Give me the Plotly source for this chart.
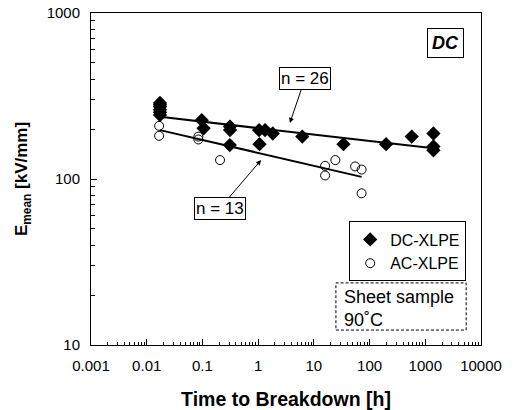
import plotly.graph_objects as go

# DC-XLPE data (time [h], Emean [kV/mm])
dc_time = [0.0173, 0.0173, 0.0173, 0.0173, 0.0173, 0.0173, 0.097, 0.105, 0.313, 0.313, 0.31,
           1.04, 1.06, 1.33, 1.83, 6.2, 34, 198, 571, 1400, 1400, 1400]
dc_E = [287, 280, 272, 261, 252, 243, 226, 202, 207, 197, 160,
        197, 162, 197, 188, 180, 162, 162, 180, 188, 157, 149]

# AC-XLPE data
ac_time = [0.0167, 0.0167, 0.0845, 0.0845, 0.207, 15.9, 15.9, 24.3, 55, 72, 72]
ac_E = [209, 182, 180, 173, 130, 120, 105, 130, 119, 114, 82]

# Fitted lines (end points)
dc_fit_t = [0.0173, 1400]
dc_fit_E = [237, 153]
ac_fit_t = [0.0173, 72]
ac_fit_E = [197, 103]

x_tickvals = [0.001, 0.01, 0.1, 1, 10, 100, 1000, 10000]
x_ticktext = ["0.001", "0.01", "0.1", "1", "10", "100", "1000", "10000"]
y_tickvals = [10, 100, 1000]
y_ticktext = ["10", "100", "1000"]
x_minor = [m * 10.0 ** e for e in range(-3, 4) for m in range(2, 10)]
y_minor = [m * 10.0 ** e for e in range(1, 3) for m in range(2, 10)]

FONT = "Liberation Sans, Arial, sans-serif"

fig = go.Figure()
fig.add_trace(go.Scatter(x=dc_fit_t, y=dc_fit_E, mode="lines",
                         line=dict(color="black", width=2), showlegend=False, hoverinfo="skip"))
fig.add_trace(go.Scatter(x=ac_fit_t, y=ac_fit_E, mode="lines",
                         line=dict(color="black", width=2), showlegend=False, hoverinfo="skip"))
fig.add_trace(go.Scatter(x=dc_time, y=dc_E, mode="markers", name="DC-XLPE",
                         marker=dict(symbol="diamond", size=11, color="black",
                                     line=dict(color="black", width=0))))
fig.add_trace(go.Scatter(x=ac_time, y=ac_E, mode="markers", name="AC-XLPE",
                         marker=dict(symbol="circle-open", size=9, color="black",
                                     line=dict(color="black", width=1))))

axis_common = dict(showline=True, linecolor="black", linewidth=1, mirror=True,
                   showgrid=False, zeroline=False, ticks="inside", ticklen=6,
                   tickcolor="black", tickfont=dict(family=FONT, size=15, color="black"),
                   automargin=False)

fig.update_xaxes(type="log", range=[-3, 4], tickvals=x_tickvals, ticktext=x_ticktext,
                 minor=dict(tickmode="array", tickvals=x_minor, ticks="inside", ticklen=3,
                            tickcolor="black", showgrid=False),
                 title=dict(text="<b>Time to Breakdown [h]</b>", standoff=22,
                            font=dict(family=FONT, size=19.5, color="black")),
                 ticklabelstandoff=7, **axis_common)
fig.update_yaxes(type="log", range=[1, 3], tickvals=y_tickvals, ticktext=y_ticktext,
                 minor=dict(tickmode="array", tickvals=y_minor, ticks="inside", ticklen=4,
                            tickcolor="black", showgrid=False),
                 title=dict(text="<b>E<sub>mean</sub> [kV/mm]</b>", standoff=14,
                            font=dict(family=FONT, size=17, color="black")),
                 ticklabelstandoff=7, **axis_common)

annotations = [
    dict(text="n = 26", x=0.510, y=0.669, xref="paper", yref="paper", ax=15, ay=-44,
         showarrow=True, arrowhead=2, arrowsize=1, arrowwidth=1, arrowcolor="black",
         bordercolor="black", borderwidth=1, borderpad=1, bgcolor="white",
         font=dict(family=FONT, size=17, color="black")),
    dict(text="n = 13", x=0.436, y=0.557, xref="paper", yref="paper", ax=-41, ay=48,
         showarrow=True, arrowhead=2, arrowsize=1, arrowwidth=1, arrowcolor="black",
         bordercolor="black", borderwidth=1, borderpad=1, bgcolor="white",
         font=dict(family=FONT, size=17, color="black")),
    dict(text="DC", x=0.909, y=0.91, xref="paper", yref="paper",
         xanchor="center", yanchor="middle",
         showarrow=False, bordercolor="black", borderwidth=1, borderpad=4, bgcolor="white",
         font=dict(family=FONT, size=18, color="black", weight="bold", style="italic")),
    dict(text="Sheet sample<br>90˚C", x=0.643, y=0.11, xref="paper", yref="paper",
         xanchor="left", yanchor="middle", align="left", showarrow=False,
         font=dict(family=FONT, size=18, color="black")),
]

fig.add_shape(type="rect", xref="paper", yref="paper", x0=0.628, x1=0.962, y0=0.045, y1=0.187,
              line=dict(color="black", width=1, dash="3px,2px"))

fig.update_layout(
    width=517, height=410,
    margin=dict(l=91, r=36, t=13, b=65, autoexpand=False),
    paper_bgcolor="white", plot_bgcolor="white",
    annotations=annotations,
    legend=dict(x=0.962, y=0.372, xanchor="right", yanchor="top",
                bordercolor="black", borderwidth=1, bgcolor="white",
                font=dict(family=FONT, size=16, color="black"),
                itemwidth=30, tracegroupgap=0),
    font=dict(family=FONT, color="black"),
)

fig.write_html("out.html")
